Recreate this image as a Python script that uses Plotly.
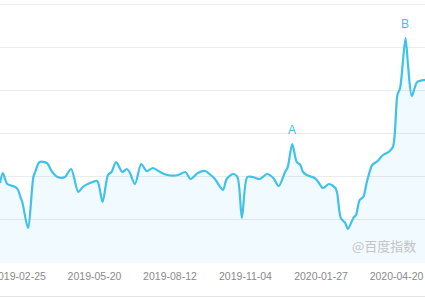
import pandas as pd
import plotly.graph_objects as go

# ---- data ----
dates = [
    "2019-02-04", "2019-02-07", "2019-02-12", "2019-02-21", "2019-02-24", "2019-02-27",
    "2019-03-01", "2019-03-07", "2019-03-13", "2019-03-15", "2019-03-20", "2019-03-28",
    "2019-04-03", "2019-04-09", "2019-04-17", "2019-04-24", "2019-05-02", "2019-05-07",
    "2019-05-15", "2019-05-23", "2019-05-29", "2019-06-04", "2019-06-08", "2019-06-13",
    "2019-06-20", "2019-06-25", "2019-06-28", "2019-07-04", "2019-07-11", "2019-07-17",
    "2019-07-24", "2019-08-01", "2019-08-09", "2019-08-21", "2019-08-29", "2019-09-04",
    "2019-09-12", "2019-09-20", "2019-09-25", "2019-10-01", "2019-10-04", "2019-10-10",
    "2019-10-14", "2019-10-21", "2019-10-26", "2019-10-31", "2019-11-06", "2019-11-12",
    "2019-11-20", "2019-11-28", "2019-12-05", "2019-12-11", "2019-12-18", "2019-12-21",
    "2019-12-26", "2019-12-31", "2020-01-04", "2020-01-07", "2020-01-11", "2020-01-20",
    "2020-01-24", "2020-01-29", "2020-02-05", "2020-02-12", "2020-02-14", "2020-02-18",
    "2020-02-23", "2020-02-26", "2020-03-03", "2020-03-06", "2020-03-10", "2020-03-14",
    "2020-03-18", "2020-03-24", "2020-03-30", "2020-04-05", "2020-04-11", "2020-04-16",
    "2020-04-21", "2020-04-24", "2020-04-30", "2020-05-03", "2020-05-07", "2020-05-13",
    "2020-05-21", "2020-05-28",
]
values = [
    1856, 2088, 1833, 1763, 1694, 1508,
    1392, 812, 1995, 2111, 2343, 2320,
    2111, 1995, 1995, 2181, 1647, 1763,
    1856, 1902, 1415, 2042, 2111, 2343,
    2111, 2181, 2111, 1833, 2297, 2134,
    2204, 2111, 2042, 2042, 2111, 1949,
    2088, 2134, 2065, 1949, 1856, 1694,
    1949, 2065, 1995, 1044, 1995, 1995,
    1949, 2065, 1972, 1786, 2111, 2227,
    2761, 2343, 2274, 2111, 2042, 1972,
    1879, 1740, 1833, 1740, 1624, 1044,
    928, 789, 1044, 1114, 1462, 1531,
    1879, 2274, 2366, 2506, 2575, 2691,
    3898, 4060, 5220, 4547, 3874, 4199,
    4246, 4260,
]
marks = [("2019-12-26", 2761, "A"), ("2020-04-30", 5220, "B")]
tick_dates = ["2019-02-25", "2019-05-20", "2019-08-12", "2019-11-04", "2020-01-27", "2020-04-20"]
grid_values = [1000, 2000, 3000, 4000, 5000, 6000]
watermark = "@百度指数"

LINE = "#3fc2ea"

fig = go.Figure()
fig.add_trace(go.Scatter(
    x=pd.to_datetime(dates), y=values, mode="lines",
    line=dict(color=LINE, width=2.2, shape="spline", smoothing=0.8),
    fill="tozeroy", fillcolor="rgba(62,180,235,0.07)",
    hoverinfo="skip", showlegend=False,
))

for d, v, t in marks:
    fig.add_annotation(x=pd.to_datetime(d), y=v, text=t, showarrow=False,
                       xanchor="center", yanchor="middle",
                       yshift=14, font=dict(color=LINE, size=12,
                                            family="Liberation Sans, Arial"))

fig.add_annotation(x=0.904, y=0.065, xref="paper", yref="paper", text=watermark,
                   showarrow=False, xanchor="center", yanchor="middle",
                   font=dict(color="#c4c4c4", size=13, family="Noto Sans CJK SC"))

ref = pd.Timestamp("2019-02-25")
x0 = ref - pd.Timedelta(days=21.1)
x1 = ref + pd.Timedelta(days=451.7)

fig.update_layout(
    width=425, height=297,
    margin=dict(l=0, r=0, t=0, b=34, autoexpand=False),
    paper_bgcolor="white", plot_bgcolor="white",
    xaxis=dict(
        range=[x0, x1], showgrid=False, zeroline=False, showline=False,
        tickvals=pd.to_datetime(tick_dates), ticktext=tick_dates,
        tickfont=dict(size=10.5, color="#8a8a8a", family="Liberation Sans, Arial"),
        ticks="", fixedrange=True, ticklabeloverflow="allow",
        ticklabelstandoff=5, automargin=False,
    ),
    yaxis=dict(
        range=[0, 6102], tickvals=grid_values, showticklabels=False,
        showgrid=True, gridcolor="#ebebeb", gridwidth=1, zeroline=False,
        fixedrange=True, automargin=False,
    ),
    shapes=[dict(type="line", xref="paper", yref="paper", x0=0, x1=1,
                 y0=-33.5 / 263, y1=-33.5 / 263,
                 line=dict(color="#e4e4e4", width=1))],
)

fig.write_html("out.html", config={"displayModeBar": False})
